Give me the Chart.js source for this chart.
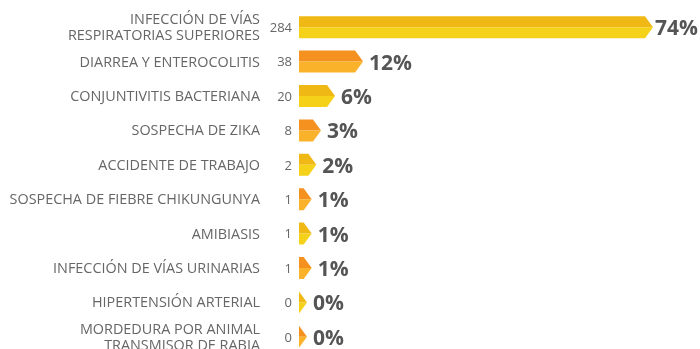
<!DOCTYPE html>
<html>
<head>
<meta charset="utf-8">
<script src="https://cdn.jsdelivr.net/npm/chart.js@4/dist/chart.umd.min.js"></script>
<style>
  html, body { margin: 0; padding: 0; background: #fff; overflow: hidden; }
  #wrap { position: relative; width: 700px; height: 356px; }
</style>
</head>
<body>
<div id="wrap"><canvas id="diagChart"></canvas></div>
<script>
// Diagnoses, number of cases and share of the total
const categories = [
    ['INFECCIÓN DE VÍAS', 'RESPIRATORIAS SUPERIORES'],
    'DIARREA Y ENTEROCOLITIS',
    'CONJUNTIVITIS BACTERIANA',
    'SOSPECHA DE ZIKA',
    'ACCIDENTE DE TRABAJO',
    'SOSPECHA DE FIEBRE CHIKUNGUNYA',
    'AMIBIASIS',
    'INFECCIÓN DE VÍAS URINARIAS',
    'HIPERTENSIÓN ARTERIAL',
    ['MORDEDURA POR ANIMAL', 'TRANSMISOR DE RABIA']
];
const cases = [284, 38, 20, 8, 2, 1, 1, 1, 0, 0];
const percents = [74, 12, 6, 3, 2, 1, 1, 1, 0, 0];

// Two-tone fills: [upper half, lower half]
const palettes = [
    ['#f0b814', '#f5d11a'],  // yellow
    ['#f5921f', '#f9b229']   // orange
];
const TIP = 8; // length of the arrow point in px

// Draws each bar as a two-tone arrow, with the case count on the left
// and the percentage after the point
const arrowBars = {
    id: 'arrowBars',
    afterDatasetsDraw(chart) {
        const ctx = chart.ctx;
        const area = chart.chartArea;
        const meta = chart.getDatasetMeta(0);
        ctx.save();
        meta.data.forEach((bar, i) => {
            const p = bar.getProps(['x', 'y', 'base', 'height'], true);
            const top = p.y - p.height / 2;
            const bottom = p.y + p.height / 2;
            const end = Math.max(p.x, p.base);
            const pal = palettes[i % 2];

            ctx.fillStyle = pal[0];
            ctx.beginPath();
            ctx.moveTo(p.base, top);
            ctx.lineTo(end, top);
            ctx.lineTo(end + TIP, p.y);
            ctx.lineTo(p.base, p.y);
            ctx.closePath();
            ctx.fill();

            ctx.fillStyle = pal[1];
            ctx.beginPath();
            ctx.moveTo(p.base, p.y);
            ctx.lineTo(end + TIP, p.y);
            ctx.lineTo(end, bottom);
            ctx.lineTo(p.base, bottom);
            ctx.closePath();
            ctx.fill();

            // case count
            ctx.font = '13px "Open Sans"';
            ctx.fillStyle = '#666';
            ctx.textAlign = 'right';
            ctx.textBaseline = 'middle';
            ctx.fillText(String(cases[i]), area.left - 7, p.y + 1);

            // percentage
            const label = percents[i] + '%';
            ctx.font = 'bold 21px "Open Sans"';
            ctx.fillStyle = '#555';
            ctx.textAlign = 'left';
            const w = ctx.measureText(label).width;
            let tx = end + TIP + 6;
            if (tx + w > chart.width - 2) tx = chart.width - 2 - w;
            ctx.fillText(label, tx, p.y + 2);
        });
        ctx.restore();
    }
};

const chart = new Chart(document.getElementById('diagChart'), {
    type: 'bar',
    data: {
        labels: categories,
        datasets: [{
            data: percents,
            backgroundColor: 'transparent',
            borderWidth: 0,
            barThickness: 22
        }]
    },
    options: {
        indexAxis: 'y',
        responsive: true,
        maintainAspectRatio: false,
        animation: false,
        layout: { padding: { top: 10, bottom: 2, left: 0, right: 55 } },
        scales: {
            x: {
                display: false,
                min: 0,
                max: 74
            },
            y: {
                offset: true,
                grid: { display: false, drawTicks: false },
                border: { display: false },
                ticks: {
                    autoSkip: false,
                    padding: 39,
                    labelOffset: 1,
                    color: '#666',
                    font: { family: 'Open Sans', size: 14.4, lineHeight: 1.12 }
                },
                afterFit(scale) {
                    scale.width = 299;
                    scale.paddingTop = 0;
                    scale.paddingBottom = 0;
                }
            }
        },
        plugins: {
            legend: { display: false },
            tooltip: { enabled: false }
        }
    },
    plugins: [arrowBars]
});
</script>
</body>
</html>
